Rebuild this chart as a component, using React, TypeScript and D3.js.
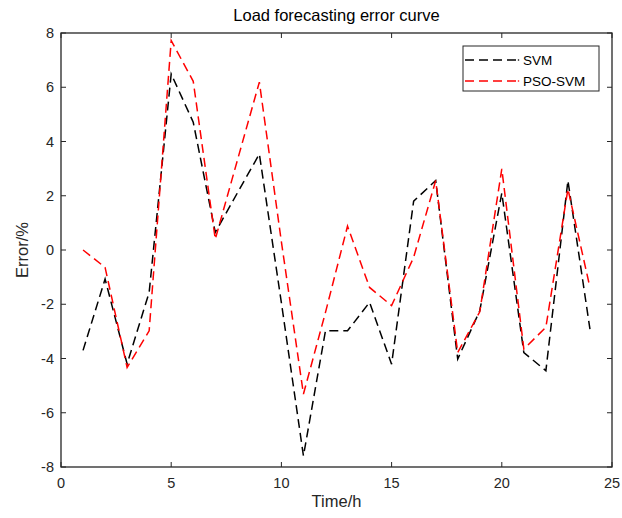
import React from 'react';
import * as d3 from 'd3';

const hours = d3.range(1, 25);
const svmError = [-3.7, -1.07, -4.2, -1.56, 6.49, 4.71, 0.65, 2.1, 3.54, -1.95, -7.59, -2.98,
  -2.98, -1.93, -4.21, 1.8, 2.56, -4.02, -2.24, 2.1, -3.78, -4.45, 2.56, -2.92];
const psoSvmError = [0.0, -0.64, -4.33, -2.98, 7.72, 6.22, 0.4, 3.3, 6.19, 0.3, -5.31, -2.3,
  0.88, -1.38, -2.05, -0.27, 2.56, -3.78, -2.28, 2.99, -3.65, -2.85, 2.25, -1.38];
const xTicks = [0, 5, 10, 15, 20, 25];
const yTicks = [-8, -6, -4, -2, 0, 2, 4, 6, 8];

const series = [
  { name: 'SVM', values: svmError, color: '#000000' },
  { name: 'PSO-SVM', values: psoSvmError, color: '#ff0000' },
];

const W = 622;
const H = 518;
const left = 61, right = 612, top = 33, bottom = 467;
const font = 'Liberation Sans, Arial, Helvetica, sans-serif';

const App = () => {
  const x = d3.scaleLinear().domain([0, 25]).range([left, right]);
  const y = d3.scaleLinear().domain([-8, 8]).range([bottom, top]);
  const line = d3.line<number>()
    .x((d, i) => x(hours[i]))
    .y(d => y(d));
  const tick = 5;

  return (
    <svg width={W} height={H} style={{ position: 'absolute', left: 0, top: 0, background: '#fff' }}
      fontFamily={font}>
      <rect x={0} y={0} width={W} height={H} fill="#fff" />
      <text x={(left + right) / 2} y={21} textAnchor="middle" fontSize={16.5} fill="#000">
        Load forecasting error curve
      </text>

      {series.map(s => (
        <path key={s.name} d={line(s.values) || ''} fill="none" stroke={s.color}
          strokeWidth={1.5} strokeDasharray="9,5" />
      ))}

      <rect x={left} y={top} width={right - left} height={bottom - top} fill="none"
        stroke="#262626" strokeWidth={1.3} />

      {xTicks.map(t => (
        <g key={'x' + t}>
          <line x1={x(t)} x2={x(t)} y1={bottom} y2={bottom - tick} stroke="#262626" />
          <line x1={x(t)} x2={x(t)} y1={top} y2={top + tick} stroke="#262626" />
          <text x={x(t)} y={bottom + 21} textAnchor="middle" fontSize={14.5} fill="#262626">{t}</text>
        </g>
      ))}
      {yTicks.map(t => (
        <g key={'y' + t}>
          <line x1={left} x2={left + tick} y1={y(t)} y2={y(t)} stroke="#262626" />
          <line x1={right} x2={right - tick} y1={y(t)} y2={y(t)} stroke="#262626" />
          <text x={left - 7} y={y(t) + 5} textAnchor="end" fontSize={14.5} fill="#262626">{t}</text>
        </g>
      ))}

      <text x={(left + right) / 2} y={507} textAnchor="middle" fontSize={16.5} fill="#262626">Time/h</text>
      <text transform={`translate(28,${(top + bottom) / 2}) rotate(-90)`} textAnchor="middle"
        fontSize={16.5} fill="#262626">Error/%</text>

      <g>
        <rect x={463} y={46} width={136} height={45} fill="#fff" stroke="#262626" strokeWidth={1} />
        {series.map((s, i) => (
          <g key={s.name}>
            <line x1={465} x2={516} y1={60 + i * 21} y2={60 + i * 21} stroke={s.color}
              strokeWidth={1.5} strokeDasharray="9,5" />
            <circle cx={518.5} cy={60 + i * 21} r={0.8} fill={s.color} />
            <text x={523} y={65 + i * 21} fontSize={13.5} fill="#000">{s.name}</text>
          </g>
        ))}
      </g>
    </svg>
  );
};

export default App;
